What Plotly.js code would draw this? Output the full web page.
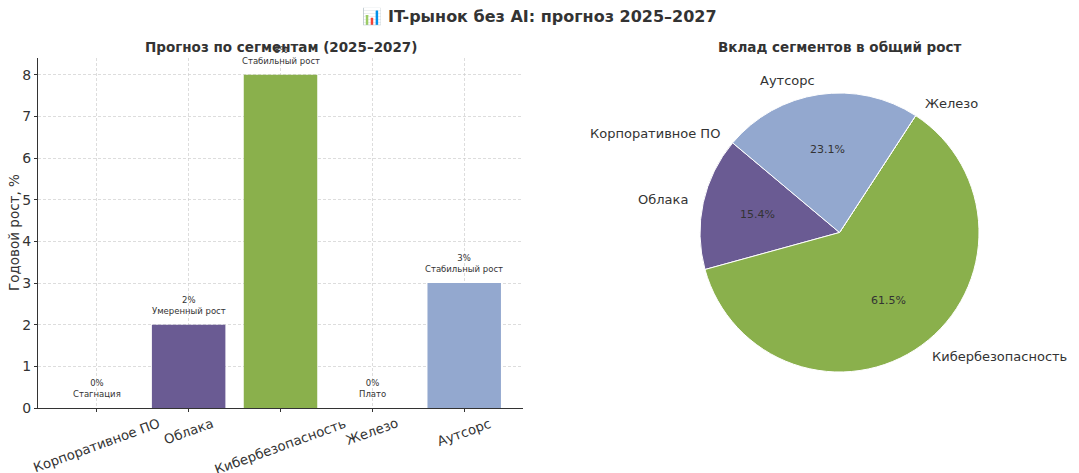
<!DOCTYPE html>
<html><head><meta charset="utf-8">
<script src="https://cdn.plot.ly/plotly-3.0.1.min.js"></script>
<style>html,body{margin:0;padding:0;background:#fff}#c{width:1079px;height:473px}</style>
</head><body><div id="c"></div>
<script>
const categories = ["Корпоративное ПО", "Облака", "Кибербезопасность", "Железо", "Аутсорс"];
const growth = [0, 2, 8, 0, 3];
const statuses = ["Стагнация", "Умеренный рост", "Стабильный рост", "Плато", "Стабильный рост"];
const colors = ["#4c72b0", "#6a5b93", "#8ab04c", "#dd8452", "#93a8cf"];
const yTicks = [0, 1, 2, 3, 4, 5, 6, 7, 8];

const W = 1079, H = 473;
const FONT = "DejaVu Sans, sans-serif";
const TXT = "#333333";

// pie geometry (pixels)
const pcx = 839.5, pcy = 232.5, pr = 139.5;
const startAngle = 140;

const barTrace = {
  type: "bar", x: categories, y: growth, width: 0.8,
  marker: {color: colors, line: {width: 0}},
  xaxis: "x", yaxis: "y", hoverinfo: "skip", showlegend: false
};

const pieTrace = {
  type: "pie", labels: categories, values: growth, sort: false,
  direction: "counterclockwise", rotation: -(startAngle - 90),
  marker: {colors: colors, line: {color: "#ffffff", width: 1}},
  textinfo: "none", hoverinfo: "skip", showlegend: false,
  domain: {x: [(pcx - pr) / W, (pcx + pr) / W], y: [1 - (pcy + pr) / H, 1 - (pcy - pr) / H]}
};

const annotations = [];
// bar labels + rotated category labels
categories.forEach((c, i) => {
  annotations.push({
    xref: "x", yref: "y", x: c, y: growth[i], yshift: 7,
    xanchor: "center", yanchor: "bottom", showarrow: false,
    text: growth[i] + "%<br>" + statuses[i],
    font: {family: FONT, size: 8.5, color: TXT}
  });
  annotations.push({
    xref: "x", yref: "y", x: c, y: 0, yshift: -5,
    xanchor: "center", yanchor: "top", showarrow: false, textangle: -20,
    text: c, font: {family: FONT, size: 13.3, color: TXT}
  });
});
// y-axis title
annotations.push({xref: "paper", yref: "paper", x: 14 / W, y: 1 - 233 / H, xanchor: "center", yanchor: "middle",
  showarrow: false, textangle: -90, text: "Годовой рост, %", font: {family: FONT, size: 13.5, color: TXT}});
// subplot titles
annotations.push({xref: "paper", yref: "paper", x: 281 / W, y: 1 - 47 / H, xanchor: "center", yanchor: "middle",
  showarrow: false, text: "<b>Прогноз по сегментам (2025–2027)</b>", font: {family: FONT, size: 13.5, color: TXT}});
annotations.push({xref: "paper", yref: "paper", x: 840 / W, y: 1 - 47 / H, xanchor: "center", yanchor: "middle",
  showarrow: false, text: "<b>Вклад сегментов в общий рост</b>", font: {family: FONT, size: 13.5, color: TXT}});

// pie labels, computed from values
const total = growth.reduce((a, b) => a + b, 0);
let ang = startAngle;
categories.forEach((c, i) => {
  const sweep = growth[i] / total * 360;
  const mid = (ang + sweep / 2) * Math.PI / 180;
  const lx = pcx + 1.1 * pr * Math.cos(mid), ly = pcy - 1.1 * pr * Math.sin(mid);
  annotations.push({xref: "paper", yref: "paper", x: lx / W, y: 1 - ly / H,
    xanchor: Math.cos(mid) < 0 ? "right" : "left", yanchor: "middle", showarrow: false,
    text: c, font: {family: FONT, size: 13, color: TXT}});
  if (growth[i] > 0) {
    const px = pcx + 0.6 * pr * Math.cos(mid), py = pcy - 0.6 * pr * Math.sin(mid);
    annotations.push({xref: "paper", yref: "paper", x: px / W, y: 1 - py / H,
      xanchor: "center", yanchor: "middle", showarrow: false,
      text: (growth[i] / total * 100).toFixed(1) + "%", font: {family: FONT, size: 11, color: TXT}});
  }
  ang += sweep;
});

const layout = {
  width: W, height: H, margin: {l: 0, r: 0, t: 0, b: 0},
  paper_bgcolor: "#ffffff", plot_bgcolor: "#ffffff",
  font: {family: FONT, color: TXT},
  title: {text: "<b>📊 IT-рынок без AI: прогноз 2025–2027</b>", x: 0.5, xanchor: "center",
    y: 1 - 16 / H, yref: "container", yanchor: "middle", font: {family: FONT, size: 16, color: TXT}},
  xaxis: {domain: [38 / W, 523 / W], range: [-0.64, 4.64], type: "category",
    showline: true, linecolor: "#333333", linewidth: 1, mirror: false,
    ticks: "outside", ticklen: 3, tickcolor: "#333333", showticklabels: false,
    showgrid: true, gridcolor: "#cfcfcf", griddash: "3px,2px", gridwidth: 0.7,
    zeroline: false, fixedrange: true},
  yaxis: {domain: [1 - 408 / H, 1 - 58 / H], range: [0, 8.4], tickvals: yTicks,
    showline: true, linecolor: "#333333", linewidth: 1,
    ticks: "outside", ticklen: 3, tickcolor: "#333333",
    showgrid: true, gridcolor: "#cfcfcf", griddash: "3px,2px", gridwidth: 0.7,
    tickfont: {family: FONT, size: 14, color: TXT}, zeroline: false,
    fixedrange: true},
  annotations: annotations
};

Plotly.newPlot("c", [barTrace, pieTrace], layout, {staticPlot: true, displayModeBar: false});
</script></body></html>
